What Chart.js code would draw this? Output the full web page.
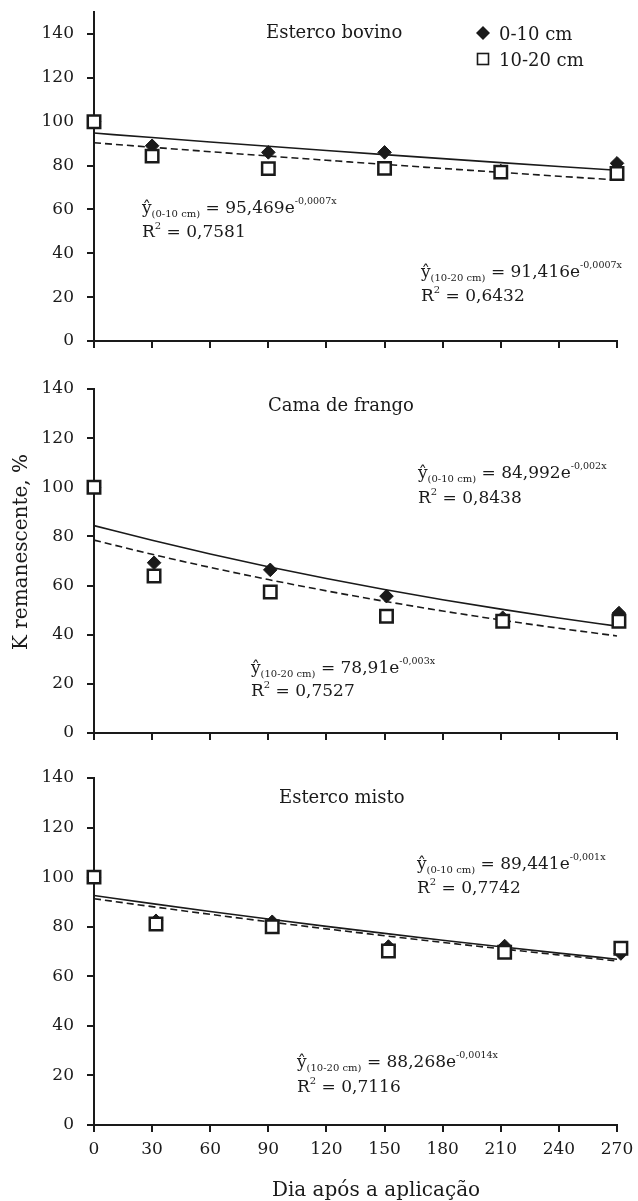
<!DOCTYPE html>
<html>
<head>
<meta charset="utf-8">
<script src="https://cdn.jsdelivr.net/npm/chart.js@4.4.0/dist/chart.umd.min.js"></script>
<style>
  html, body { margin: 0; padding: 0; background: #fff; }
  body { width: 638px; height: 1201px; position: relative; overflow: hidden; }
  canvas { position: absolute; left: 0; }
</style>
</head>
<body>
<canvas id="c1" width="638" height="360" style="top:0px"></canvas>
<canvas id="c2" width="638" height="390" style="top:360px"></canvas>
<canvas id="c3" width="638" height="451" style="top:750px"></canvas>
<script>
// ---------- data ----------
const yTicks = [0, 20, 40, 60, 80, 100, 120, 140];
const xTicks = [0, 30, 60, 90, 120, 150, 180, 210, 240, 270];
const trendDays = [0, 30, 60, 90, 120, 150, 180, 210, 240, 270];

// Esterco bovino
const daysBov = [0, 30, 90, 150, 210, 270];
const bov010 = [100, 89, 86, 86, 77.5, 81];
const bov1020 = [100, 84.3, 78.6, 78.7, 77, 76.4];
const bovFit010 = [94.8, 92.75, 90.74, 88.77, 86.85, 84.97, 83.13, 81.33, 79.57, 77.84];
const bovFit1020 = [90.4, 88.33, 86.31, 84.33, 82.40, 80.52, 78.68, 76.88, 75.12, 73.40];

// Cama de frango
const daysCam = [0, 31, 91, 151, 211, 271];
const cam010 = [100, 69.3, 66.4, 55.7, 46.9, 48.8];
const cam1020 = [100, 63.9, 57.4, 47.5, 45.5, 45.5];
const camFit010 = [84.4, 78.41, 72.84, 67.67, 62.87, 58.40, 54.25, 50.40, 46.82, 43.50];
const camFit1020 = [78.5, 72.73, 67.39, 62.44, 57.85, 53.60, 49.66, 46.01, 42.63, 39.50];

// Esterco misto
const daysMis = [0, 32, 92, 152, 212, 272];
const mis010 = [100, 82.4, 82, 72, 72.2, 69.2];
const mis1020 = [100, 81.1, 80, 70.2, 69.7, 71.3];
const misFit010 = [92.6, 89.32, 86.15, 83.09, 80.14, 77.30, 74.56, 71.91, 69.36, 66.90];
const misFit1020 = [91.3, 88.10, 85.00, 82.02, 79.14, 76.37, 73.69, 71.10, 68.61, 66.20];

const seriesNames = ['0-10 cm', '10-20 cm'];

// ---------- helpers ----------
const SERIF = "'DejaVu Serif', 'Liberation Serif', serif";
const INK = '#1a1a1a';
const pts = (xs, ys) => xs.map((x, i) => ({ x: x, y: ys[i] }));

function runs(ctx, x, y, parts) {
  let cx = x;
  parts.forEach(p => {
    ctx.font = p.size + 'px ' + SERIF;
    ctx.fillText(p.t, cx, y + (p.dy || 0));
    cx += ctx.measureText(p.t).width;
  });
}

const notesPlugin = {
  id: 'notes',
  afterDraw(chart, args, opts) {
    const ctx = chart.ctx;
    ctx.save();
    ctx.fillStyle = INK;
    ctx.strokeStyle = INK;
    ctx.textAlign = 'left';
    ctx.textBaseline = 'alphabetic';
    (opts.items || []).forEach(it => {
      if (it.kind === 'text') {
        runs(ctx, it.x, it.y, [{ t: it.t, size: it.size }]);
      } else if (it.kind === 'eq') {
        runs(ctx, it.x, it.y, [
          { t: '\u0177', size: 17 },
          { t: it.sub, size: 10, dy: 4 },
          { t: ' = ' + it.coef + 'e', size: 17 },
          { t: it.exp, size: 9.5, dy: -9 }
        ]);
        runs(ctx, it.x, it.y2, [
          { t: 'R', size: 17 },
          { t: '2', size: 10, dy: -8 },
          { t: ' = ' + it.r2, size: 17 }
        ]);
      } else if (it.kind === 'legend') {
        const dx = it.x, dy1 = it.y1, dy2 = it.y2, r = 7;
        ctx.beginPath();
        ctx.moveTo(dx, dy1 - r); ctx.lineTo(dx + r, dy1); ctx.lineTo(dx, dy1 + r); ctx.lineTo(dx - r, dy1); ctx.closePath();
        ctx.fill();
        ctx.lineWidth = 1.6;
        ctx.fillStyle = '#fff';
        ctx.fillRect(dx - 5.5, dy2 - 5.5, 11, 11);
        ctx.strokeRect(dx - 5.5, dy2 - 5.5, 11, 11);
        ctx.fillStyle = INK;
        runs(ctx, it.tx, dy1 + 7, [{ t: seriesNames[0], size: 18 }]);
        runs(ctx, it.tx, dy2 + 7, [{ t: seriesNames[1], size: 18 }]);
      } else if (it.kind === 'ytitle') {
        ctx.translate(it.x, it.y);
        ctx.rotate(-Math.PI / 2);
        ctx.textAlign = 'center';
        ctx.textBaseline = 'middle';
        ctx.font = it.size + 'px ' + SERIF;
        ctx.fillText(it.t, 0, 0);
        ctx.setTransform(1, 0, 0, 1, 0, 0);
        ctx.textAlign = 'left';
        ctx.textBaseline = 'alphabetic';
      } else if (it.kind === 'xtitle') {
        ctx.textAlign = 'center';
        ctx.font = it.size + 'px ' + SERIF;
        ctx.fillText(it.t, it.x, it.y);
        ctx.textAlign = 'left';
      }
    });
    ctx.restore();
  }
};

function buildChart(id, o) {
  const datasets = [
    { label: seriesNames[0], data: pts(o.days, o.d010), showLine: false,
      pointStyle: 'rectRot', pointRadius: 6.8, backgroundColor: INK, borderColor: INK,
      borderWidth: 1, order: 1, clip: false },
    { label: seriesNames[1], data: pts(o.days, o.d1020), showLine: false,
      pointStyle: 'rect', pointRadius: 8.8, backgroundColor: '#fff', borderColor: INK,
      borderWidth: 2.5, order: 0, clip: false },
    { label: 'fit 0-10', data: pts(trendDays, o.f010), showLine: true, pointRadius: 0,
      borderColor: INK, borderWidth: 1.6, cubicInterpolationMode: 'monotone', order: 2, clip: false },
    { label: 'fit 10-20', data: pts(trendDays, o.f1020), showLine: true, pointRadius: 0,
      borderColor: INK, borderWidth: 1.6, borderDash: [7, 4], cubicInterpolationMode: 'monotone', order: 3, clip: false }
  ];
  const axisStyle = {
    grid: { display: true, drawOnChartArea: false, drawTicks: true, tickLength: 7, color: INK, lineWidth: 2 },
    border: { display: true, color: INK, width: 2 }
  };
  return new Chart(document.getElementById(id), {
    type: 'scatter',
    data: { datasets: datasets },
    plugins: [notesPlugin],
    options: {
      responsive: false,
      animation: false,
      devicePixelRatio: 1,
      events: [],
      layout: { autoPadding: false, padding: { top: o.top, right: 21, left: 0, bottom: 0 } },
      plugins: { legend: { display: false }, tooltip: { enabled: false }, notes: { items: o.items } },
      scales: {
        x: Object.assign({}, axisStyle, {
          type: 'linear', min: 0, max: 270,
          afterBuildTicks: s => { s.ticks = xTicks.map(v => ({ value: v })); },
          afterFit: s => { s.height = o.xh; s.paddingLeft = 0; s.paddingRight = 0; },
          ticks: {
            autoSkip: false, maxRotation: 0, padding: 7, color: INK,
            font: { family: SERIF, size: 17 },
            callback: v => (o.xlabels ? String(v) : '')
          }
        }),
        y: Object.assign({}, axisStyle, {
          type: 'linear', min: 0, max: o.ymax,
          afterBuildTicks: s => { s.ticks = yTicks.map(v => ({ value: v })); },
          afterFit: s => { s.width = 94; s.paddingTop = 0; s.paddingBottom = 0; },
          ticks: { autoSkip: false, padding: 13, color: INK, font: { family: SERIF, size: 17 } }
        })
      }
    }
  });
}

buildChart('c1', {
  days: daysBov, d010: bov010, d1020: bov1020, f010: bovFit010, f1020: bovFit1020,
  top: 12, xh: 19, ymax: 150, xlabels: false,
  items: [
    { kind: 'text', t: 'Esterco bovino', x: 266, y: 38, size: 18 },
    { kind: 'legend', x: 483, y1: 33, y2: 59, tx: 499 },
    { kind: 'eq', x: 142, y: 213, y2: 237, sub: '(0-10 cm)', coef: '95,469', exp: '-0,0007x', r2: '0,7581' },
    { kind: 'eq', x: 421, y: 277, y2: 301, sub: '(10-20 cm)', coef: '91,416', exp: '-0,0007x', r2: '0,6432' }
  ]
});

buildChart('c2', {
  days: daysCam, d010: cam010, d1020: cam1020, f010: camFit010, f1020: camFit1020,
  top: 29, xh: 17, ymax: 140, xlabels: false,
  items: [
    { kind: 'text', t: 'Cama de frango', x: 268, y: 51, size: 18 },
    { kind: 'eq', x: 418, y: 118, y2: 143, sub: '(0-10 cm)', coef: '84,992', exp: '-0,002x', r2: '0,8438' },
    { kind: 'eq', x: 251, y: 313, y2: 336, sub: '(10-20 cm)', coef: '78,91', exp: '-0,003x', r2: '0,7527' },
    { kind: 'ytitle', t: 'K remanescente, %', x: 22, y: 192, size: 20 }
  ]
});

buildChart('c3', {
  days: daysMis, d010: mis010, d1020: mis1020, f010: misFit010, f1020: misFit1020,
  top: 28, xh: 76, ymax: 140, xlabels: true,
  items: [
    { kind: 'text', t: 'Esterco misto', x: 279, y: 53, size: 18 },
    { kind: 'eq', x: 417, y: 119, y2: 143, sub: '(0-10 cm)', coef: '89,441', exp: '-0,001x', r2: '0,7742' },
    { kind: 'eq', x: 297, y: 317, y2: 342, sub: '(10-20 cm)', coef: '88,268', exp: '-0,0014x', r2: '0,7116' },
    { kind: 'xtitle', t: 'Dia após a aplicação', x: 376, y: 446, size: 20 }
  ]
});
</script>
</body>
</html>
